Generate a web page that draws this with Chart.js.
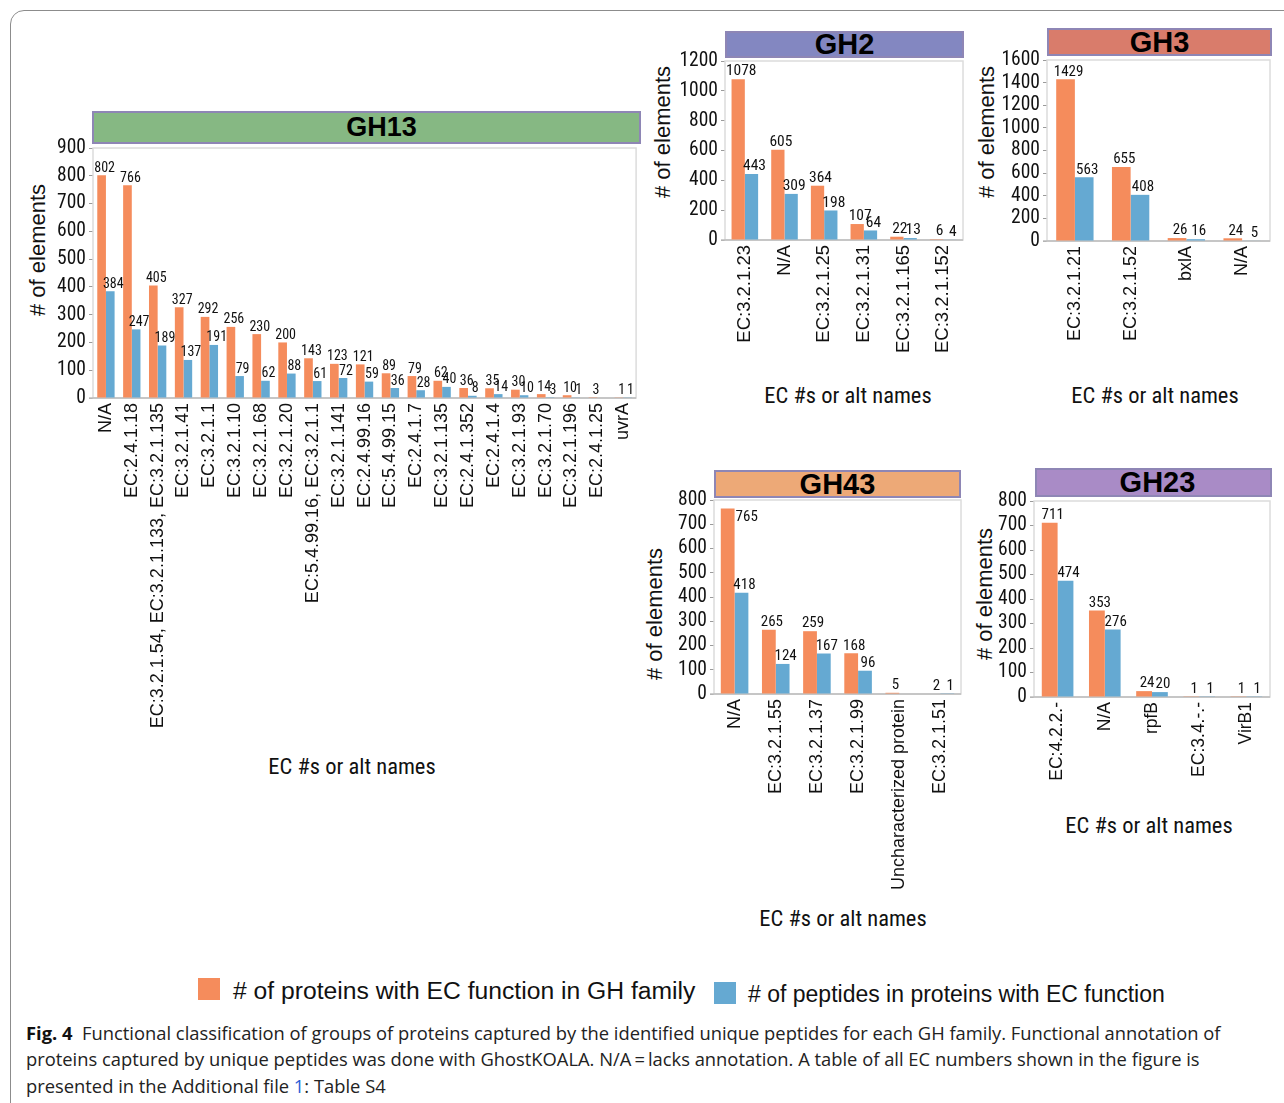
<!DOCTYPE html>
<html><head><meta charset="utf-8">
<script src="https://cdn.jsdelivr.net/npm/chart.js@4.4.1/dist/chart.umd.min.js"></script>
<style>
html,body{margin:0;padding:0;background:#fff;}
body{width:1284px;height:1103px;position:relative;overflow:hidden;font-family:'Liberation Sans',Arial,sans-serif;}
.frame{position:absolute;left:10px;top:10px;width:1320px;height:1140px;border:1px solid #8c8c8c;border-radius:14px;box-sizing:border-box;}
canvas{position:absolute;}
.tbar{position:absolute;box-sizing:border-box;border:2px solid #8e86b5;display:flex;align-items:center;justify-content:center;font-weight:bold;font-size:29px;color:#000;font-family:'Liberation Sans',Arial,sans-serif;}
.ytitle{position:absolute;font-family:'Liberation Sans',Arial,sans-serif;font-size:22px;color:#111;transform:translate(-50%,-50%) rotate(-90deg);white-space:nowrap;}
.xtitle{position:absolute;font-family:'Roboto Condensed','Liberation Sans',sans-serif;font-size:22.5px;color:#111;transform:translate(-50%,-50%);white-space:nowrap;}
.leg{position:absolute;color:#111;white-space:nowrap;transform:translateY(-50%);font-family:'Liberation Sans',Arial,sans-serif;}
.sw{position:absolute;width:22px;height:22px;}
.cap{position:absolute;left:26px;font-family:'Open Sans','Liberation Sans',sans-serif;font-weight:400;font-size:18.35px;color:#222;white-space:nowrap;transform:translateY(-50%);}
.cap b{font-weight:700;color:#111;}
.cap .lnk{color:#2a5fd6;}
</style>
</head><body>
<div class="frame"></div>

<div class="tbar" style="left:92px;top:111px;width:549px;height:33px;background:#86b883;font-size:27px;padding-left:30px;">GH13</div>
<div class="tbar" style="left:725px;top:31px;width:239px;height:27px;background:#8387c1;">GH2</div>
<div class="tbar" style="left:1047px;top:28px;width:225px;height:28px;background:#d97c6b;">GH3</div>
<div class="tbar" style="left:714px;top:470px;width:247px;height:28px;background:#eda977;">GH43</div>
<div class="tbar" style="left:1035px;top:468px;width:237px;height:29px;background:#a98bc6;padding-left:8px;">GH23</div>

<div class="ytitle" style="left:38px;top:250px;"># of elements</div>
<div class="ytitle" style="left:663px;top:132px;"># of elements</div>
<div class="ytitle" style="left:987px;top:132px;"># of elements</div>
<div class="ytitle" style="left:655px;top:614px;"># of elements</div>
<div class="ytitle" style="left:985px;top:594px;"># of elements</div>

<div class="xtitle" style="left:352px;top:766px;">EC #s or alt names</div>
<div class="xtitle" style="left:848px;top:395px;">EC #s or alt names</div>
<div class="xtitle" style="left:1155px;top:395px;">EC #s or alt names</div>
<div class="xtitle" style="left:843px;top:918px;">EC #s or alt names</div>
<div class="xtitle" style="left:1149px;top:825px;">EC #s or alt names</div>

<canvas id="gh13"></canvas>
<canvas id="gh2"></canvas>
<canvas id="gh3"></canvas>
<canvas id="gh43"></canvas>
<canvas id="gh23"></canvas>

<div class="sw" style="left:198px;top:978px;background:#f58c5c;"></div>
<div class="leg" style="left:233px;top:991px;font-size:24.7px;"># of proteins with EC function in GH family</div>
<div class="sw" style="left:714px;top:982px;background:#65a9d2;"></div>
<div class="leg" style="left:748px;top:994px;font-size:23px;"># of peptides in proteins with EC function</div>

<div class="cap" style="top:1032px;"><b>Fig. 4</b>&nbsp; Functional classification of groups of proteins captured by the identified unique peptides for each GH family. Functional annotation of</div>
<div class="cap" style="top:1058px;">proteins captured by unique peptides was done with GhostKOALA. N/A&#8201;=&#8201;lacks annotation. A table of all EC numbers shown in the figure is</div>
<div class="cap" style="top:1085px;">presented in the Additional file <span class="lnk">1</span>: Table S4</div>

<script>
// ---- data ----
const seriesNames = ['# of proteins with EC function in GH family', '# of peptides in proteins with EC function'];

const gh13Categories = ['N/A','EC:2.4.1.18','EC:3.2.1.54, EC:3.2.1.133, EC:3.2.1.135','EC:3.2.1.41','EC:3.2.1.1','EC:3.2.1.10','EC:3.2.1.68','EC:3.2.1.20','EC:5.4.99.16, EC:3.2.1.1','EC:3.2.1.141','EC:2.4.99.16','EC:5.4.99.15','EC:2.4.1.7','EC:3.2.1.135','EC:2.4.1.352','EC:2.4.1.4','EC:3.2.1.93','EC:3.2.1.70','EC:3.2.1.196','EC:2.4.1.25','uvrA'];
const gh13Proteins = [802,766,405,327,292,256,230,200,143,123,121,89,79,62,36,35,30,14,10,3,1];
const gh13Peptides = [384,247,189,137,191,79,62,88,61,72,59,36,28,40,8,14,10,3,1,0,1];

const gh2Categories = ['EC:3.2.1.23','N/A','EC:3.2.1.25','EC:3.2.1.31','EC:3.2.1.165','EC:3.2.1.152'];
const gh2Proteins = [1078,605,364,107,22,6];
const gh2Peptides = [443,309,198,64,13,4];

const gh3Categories = ['EC:3.2.1.21','EC:3.2.1.52','bxlA','N/A'];
const gh3Proteins = [1429,655,26,24];
const gh3Peptides = [563,408,16,5];

const gh43Categories = ['N/A','EC:3.2.1.55','EC:3.2.1.37','EC:3.2.1.99','Uncharacterized protein','EC:3.2.1.51'];
const gh43Proteins = [765,265,259,168,5,2];
const gh43Peptides = [418,124,167,96,0,1];

const gh23Categories = ['EC:4.2.2.-','N/A','rpfB','EC:3.4.-.-','VirB1'];
const gh23Proteins = [711,353,24,1,1];
const gh23Peptides = [474,276,20,1,1];

const yMaxes = {gh13:900, gh2:1200, gh3:1600, gh43:800, gh23:800};
const ySteps = {gh13:100, gh2:200, gh3:200, gh43:100, gh23:100};

// ---- styling ----
const ORANGE = '#f58c5c', BLUE = '#65a9d2';
const COND = "'Roboto Condensed','Liberation Sans',sans-serif";
const REG = "'Liberation Sans',Arial,sans-serif";
Chart.defaults.font.family = REG;

const framePlugin = {
  id:'frameBox',
  beforeDatasetsDraw(chart){
    const {ctx, chartArea:a} = chart;
    ctx.save();
    ctx.strokeStyle = '#dcdcdc'; ctx.lineWidth = 1.5;
    ctx.strokeRect(a.left, a.top, a.right-a.left, a.bottom-a.top);
    ctx.strokeStyle = '#bdbdbd'; ctx.lineWidth = 1.5;
    ctx.beginPath(); ctx.moveTo(a.left-4, a.bottom); ctx.lineTo(a.right, a.bottom); ctx.stroke();
    ctx.restore();
  }
};
const valuePlugin = {
  id:'valueLabels',
  afterDatasetsDraw(chart, args, opts){
    const ctx = chart.ctx, top = chart.chartArea.top;
    ctx.save();
    ctx.font = opts.size + 'px ' + COND;
    ctx.fillStyle = '#111';
    chart.data.datasets.forEach((ds, i) => {
      chart.getDatasetMeta(i).data.forEach((bar, j) => {
        const v = ds.data[j];
        if (!v) return;
        if (bar.y - opts.size < top) {
          ctx.textAlign = 'left'; ctx.textBaseline = 'top';
          ctx.fillText(String(v), bar.x + bar.width/2 + 1, bar.y + 1);
        } else {
          ctx.textAlign = 'center'; ctx.textBaseline = 'bottom';
          ctx.fillText(String(v), bar.x + opts.dx, bar.y);
        }
      });
    });
    ctx.restore();
  }
};

function makeChart(id, box, area, cats, prot, pep, xFont, lblFont){
  const cv = document.getElementById(id);
  cv.style.left = box.x + 'px'; cv.style.top = box.y + 'px';
  cv.style.width = box.w + 'px'; cv.style.height = box.h + 'px';
  cv.width = box.w; cv.height = box.h;
  new Chart(cv, {
    type:'bar',
    data:{labels:cats, datasets:[
      {label:seriesNames[0], data:prot, backgroundColor:ORANGE, borderWidth:0},
      {label:seriesNames[1], data:pep, backgroundColor:BLUE, borderWidth:0}
    ]},
    options:{
      responsive:false, animation:false, devicePixelRatio:1,
      layout:{padding:{top:area.t-box.y, right:box.x+box.w-area.r, left:0, bottom:0}},
      datasets:{bar:{categoryPercentage:0.67, barPercentage:1}},
      plugins:{legend:{display:false}, tooltip:{enabled:false}, title:{display:false},
        valueLabels:{size:lblFont, dx:3}},
      scales:{
        x:{
          grid:{display:false, drawTicks:false}, border:{display:false},
          ticks:{autoSkip:false, minRotation:90, maxRotation:90, padding:5, color:'#111', font:{family:REG, size:xFont}},
          afterFit(s){ s.height = box.y + box.h - area.b; }
        },
        y:{
          min:0, max:yMaxes[id],
          grid:{drawOnChartArea:false, tickLength:4, color:'#9a9a9a'}, border:{display:false},
          ticks:{stepSize:ySteps[id], autoSkip:false, padding:3, color:'#111', font:{family:COND, size:19.5},
            callback:(v) => String(v)},
          afterFit(s){ s.width = area.l - box.x; }
        }
      }
    },
    plugins:[framePlugin, valuePlugin]
  });
}

makeChart('gh13', {x:40,y:133,w:610,h:615}, {l:93,t:148,r:640,b:398}, gh13Categories, gh13Proteins, gh13Peptides, 18, 14);
makeChart('gh2',  {x:668,y:46,w:305,h:330}, {l:725,t:61,r:963,b:240}, gh2Categories, gh2Proteins, gh2Peptides, 18.5, 15.5);
makeChart('gh3',  {x:995,y:45,w:285,h:330}, {l:1047,t:60,r:1270,b:241}, gh3Categories, gh3Proteins, gh3Peptides, 18, 15);
makeChart('gh43', {x:670,y:485,w:301,h:430}, {l:714,t:500,r:961,b:694}, gh43Categories, gh43Proteins, gh43Peptides, 18, 15);
makeChart('gh23', {x:990,y:486,w:290,h:320}, {l:1034,t:501,r:1270,b:697}, gh23Categories, gh23Proteins, gh23Peptides, 17.5, 15);
</script>
</body></html>
